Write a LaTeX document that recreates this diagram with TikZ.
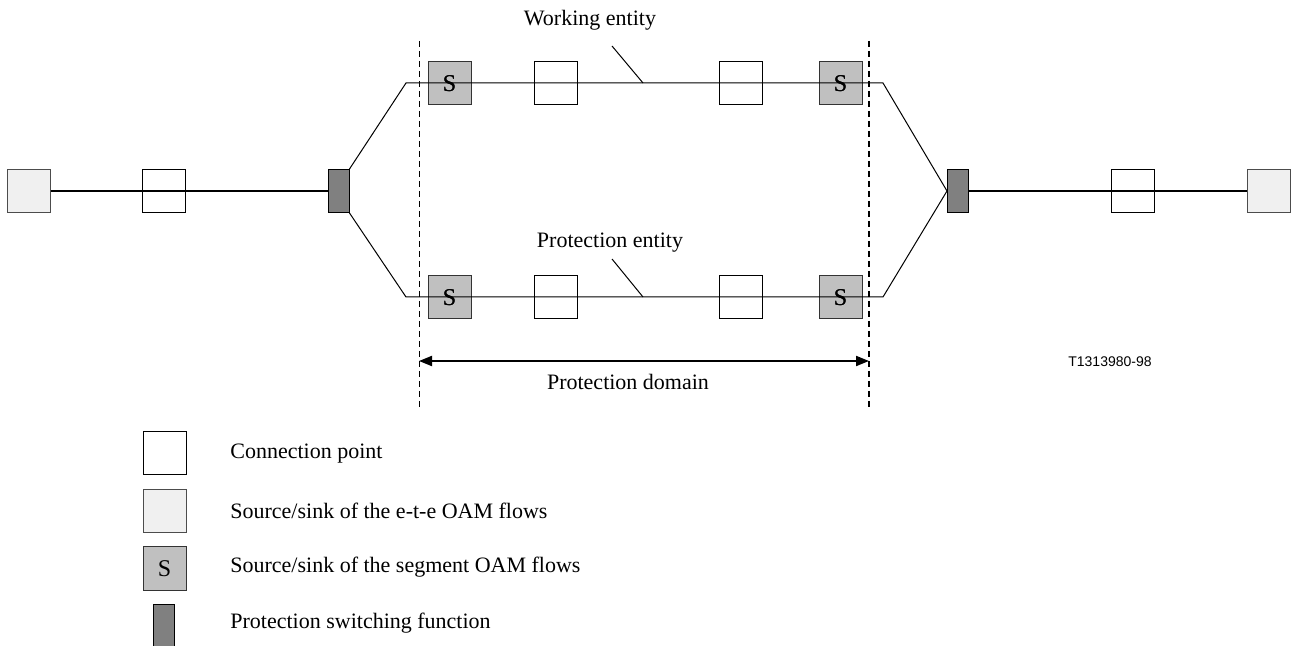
\documentclass[tikz,border=0pt]{standalone}
\usepackage{fontspec}
\setmainfont{Liberation Serif}
\setsansfont{Liberation Sans}
\usetikzlibrary{arrows.meta, positioning}

\definecolor{etegray}{HTML}{F0F0F0}
\definecolor{seggray}{HTML}{C0C0C0}
\definecolor{psgray}{HTML}{808080}

\begin{document}
\begin{tikzpicture}[x=0.5pt, y=-0.5pt, >=Stealth,
		every node/.style={font=\fontsize{11}{13}\selectfont},
		etebox/.style={rectangle, draw=black!70, fill=etegray, line width=0.5pt, minimum size=21.5pt, inner sep=0pt},
		cpbox/.style={rectangle, draw=black, fill=white, line width=0.5pt, minimum size=21.5pt, inner sep=0pt},
		segbox/.style={rectangle, draw=black!80, fill=seggray, line width=0.5pt, minimum size=21.5pt, inner sep=0pt, font=\fontsize{12}{14}\selectfont},
		psbox/.style={rectangle, draw=black, fill=psgray, line width=0.5pt, minimum width=10.5pt, minimum height=21.5pt, inner sep=0pt},
		link/.style={black, line width=0.5pt},
		mainlink/.style={black, line width=0.8pt},
		domline/.style={black, densely dashed, line width=0.5pt}]
		
		\useasboundingbox (0,0) rectangle (1291,646);
		
		% Left branch
		\node[etebox] (ete_l) at (29, 191) {};
		\node[cpbox] (cp_l) at (164, 191) {};
		\node[psbox] (ps_l) at (338.5, 191) {};
		
		% Right branch
		\node[psbox] (ps_r) at (958, 191) {};
		\node[cpbox] (cp_r) at (1132.5, 191) {};
		\node[etebox] (ete_r) at (1268.5, 191) {};
		
		% Working entity
		\node[segbox] (s_w1) at (449.5, 83.5) {S};
		\node[cpbox] (cp_w1) at (555.5, 83.5) {};
		\node[cpbox] (cp_w2) at (741, 83.5) {};
		\node[segbox] (s_w2) at (840.5, 83.5) {S};
		
		% Protection entity
		\node[segbox] (s_p1) at (449.5, 297.5) {S};
		\node[cpbox] (cp_p1) at (555.5, 297.5) {};
		\node[cpbox] (cp_p2) at (741, 297.5) {};
		\node[segbox] (s_p2) at (840.5, 297.5) {S};
		
		% Corners of the two entities
		\coordinate (w_l) at (406, 83);
		\coordinate (w_r) at (883, 83);
		\coordinate (p_l) at (406, 297);
		\coordinate (p_r) at (883, 297);
		
		% Links
		\draw[mainlink] (ete_l.east) -- (ps_l.west);
		\draw[mainlink] (ps_r.east) -- (ete_r.west);
		\draw[link] (ps_l.north east) -- (w_l) -- (w_r) -- (ps_r.west);
		\draw[link] (ps_l.south east) -- (p_l) -- (p_r) -- (ps_r.west);
		
		% Redraw the letters over the lines
		\foreach \n in {s_w1, s_w2, s_p1, s_p2}
			\node[font=\fontsize{12}{14}\selectfont] at (\n) {S};
		
		% Labels
		\node (work_lbl) at (590, 20) {Working entity};
		\coordinate (work_tip) at (643, 83);
		\draw[link] (612, 46) -- (work_tip);
		\node (prot_lbl) at (610, 243) {Protection entity};
		\coordinate (prot_tip) at (643, 297);
		\draw[link] (612, 259) -- (prot_tip);
		
		% Protection domain
		\coordinate (dom_lt) at (419, 41);
		\coordinate (dom_lb) at (419, 410);
		\coordinate (dom_rt) at (869, 41);
		\coordinate (dom_rb) at (869, 410);
		\draw[domline] (dom_lt) -- (dom_lb);
		\draw[domline, line width=0.8pt] (dom_rt) -- (dom_rb);
		\coordinate (arr_l) at (419, 361);
		\coordinate (arr_r) at (869, 361);
		\draw[line width=1pt, {Triangle[length=6.5pt, width=5pt]}-{Triangle[length=6.5pt, width=5pt]}] (arr_l) -- (arr_r);
		\node (dom_lbl) at (628, 382) {Protection domain};
		
		\node[font=\sffamily\fontsize{7}{8}\selectfont] (fig_id) at (1110, 362) {T1313980-98};
		
		% Legend
		\node[cpbox] (leg_cp) at (164.5, 453.5) {};
		\node[etebox] (leg_ete) at (164.5, 511.5) {};
		\node[segbox] (leg_seg) at (164.5, 568.5) {S};
		\node[psbox] (leg_ps) at (164, 625.5) {};
		\node[anchor=west, inner sep=0pt] (txt_cp) at (230, 453.5) {Connection point};
		\node[anchor=west, inner sep=0pt] (txt_ete) at (230, 510.5) {Source/sink of the e-t-e OAM flows};
		\node[anchor=west, inner sep=0pt] (txt_seg) at (230, 567.5) {Source/sink of the segment OAM flows};
		\node[anchor=west, inner sep=0pt] (txt_ps) at (230, 623.5) {Protection switching function};
		
	\end{tikzpicture}
\end{document}
